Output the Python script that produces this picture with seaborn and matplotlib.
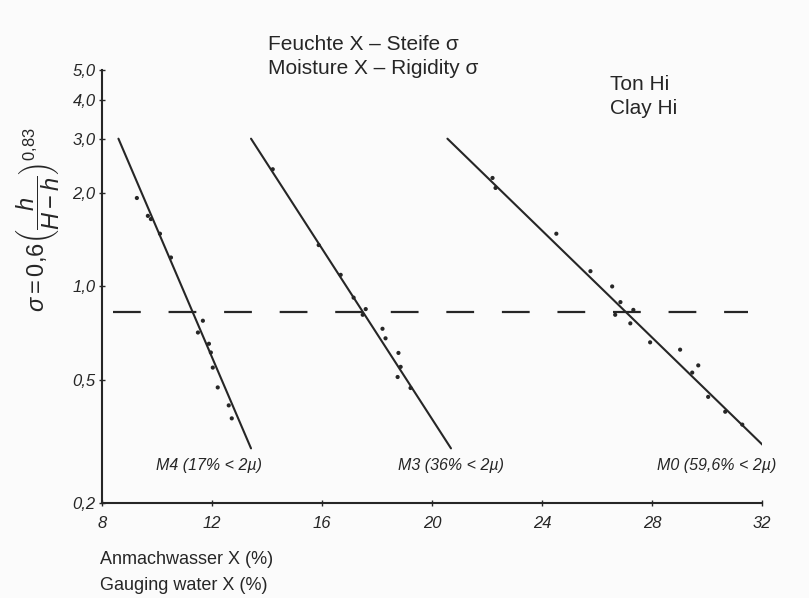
import matplotlib
matplotlib.use("Agg")
import matplotlib.pyplot as plt
import seaborn as sns
import numpy as np

# Fitted lines (log sigma vs. moisture), one per clay sample
m4_line_x = [8.6, 13.42]
m4_line_y = [3.0, 0.30]
m3_line_x = [13.42, 20.69]
m3_line_y = [3.0, 0.30]
m0_line_x = [20.56, 32.15]
m0_line_y = [3.0, 0.30]

# Measured points
m4_x = [9.27, 9.67, 9.78, 10.11, 10.51, 11.67, 11.49, 11.89, 11.96, 12.03, 12.21, 12.61, 12.72]
m4_y = [1.93, 1.69, 1.65, 1.48, 1.24, 0.775, 0.71, 0.653, 0.612, 0.547, 0.472, 0.413, 0.375]
m3_x = [14.21, 15.88, 16.68, 17.15, 17.59, 17.48, 18.20, 18.31, 18.78, 18.86, 18.75, 19.22]
m3_y = [2.39, 1.36, 1.09, 0.92, 0.845, 0.81, 0.73, 0.68, 0.61, 0.55, 0.51, 0.47]
m0_x = [22.20, 22.31, 24.52, 25.76, 26.55, 26.85, 27.32, 26.66, 27.21, 27.93, 29.02, 29.68, 29.46, 30.04, 30.66, 31.28]
m0_y = [2.24, 2.08, 1.48, 1.12, 1.00, 0.89, 0.84, 0.81, 0.76, 0.66, 0.625, 0.556, 0.527, 0.44, 0.394, 0.358]

# Reference level (dashed)
ref_x = [8.4, 31.5]
ref_y = [0.83, 0.83]

series_labels = ["M4 (17% < 2µ)", "M3 (36% < 2µ)", "M0 (59,6% < 2µ)"]
label_x = [9.96, 18.78, 28.19]
label_y = 0.265

x_ticks = [8, 12, 16, 20, 24, 28, 32]
y_ticks = [0.2, 0.5, 1.0, 2.0, 3.0, 4.0, 5.0]
y_tick_labels = ["0,2", "0,5", "1,0", "2,0", "3,0", "4,0", "5,0"]

sns.set_theme(style="ticks")
plt.rcParams["font.family"] = ["Liberation Sans", "DejaVu Sans"]
plt.rcParams["mathtext.fontset"] = "custom"
plt.rcParams["mathtext.rm"] = "Liberation Sans"
plt.rcParams["mathtext.it"] = "Liberation Sans:italic"
plt.rcParams["lines.scale_dashes"] = False

ink = "#262626"
bg = "#fbfbfb"

fig = plt.figure(figsize=(8.09, 5.98), dpi=100, facecolor=bg)
ax = fig.add_axes([0.126, 0.159, 0.816, 0.724])
ax.set_facecolor(bg)

for lx, ly, px, py in [(m4_line_x, m4_line_y, m4_x, m4_y),
                       (m3_line_x, m3_line_y, m3_x, m3_y),
                       (m0_line_x, m0_line_y, m0_x, m0_y)]:
    sns.lineplot(x=lx, y=ly, ax=ax, color=ink, linewidth=1.5)
    sns.scatterplot(x=px, y=py, ax=ax, color=ink, s=9, edgecolor="none")

sns.lineplot(x=ref_x, y=ref_y, ax=ax, color=ink, linewidth=1.6,
             linestyle=(0, (20, 20)))

ax.set_yscale("log")
ax.set_xlim(8, 32)
ax.set_ylim(0.2, 5.0)
ax.set_xticks(x_ticks)
ax.set_xticklabels([str(t) for t in x_ticks], fontstyle="italic", fontsize=12, color=ink)
ax.set_yticks(y_ticks)
ax.set_yticklabels(y_tick_labels, fontstyle="italic", fontsize=12, color=ink)
ax.minorticks_off()
ax.tick_params(axis="both", direction="inout", length=5, width=1.0, color=ink)
ax.tick_params(axis="x", pad=7)
ax.tick_params(axis="y", pad=2)

for side in ["top", "right"]:
    ax.spines[side].set_visible(False)
for side in ["left", "bottom"]:
    ax.spines[side].set_color(ink)
    ax.spines[side].set_linewidth(1.5)

for text, x in zip(series_labels, label_x):
    ax.text(x, label_y, text, fontstyle="italic", fontsize=11.5, color=ink,
            ha="left", va="center")

W, H = 809, 598
fig.text(268 / W, 1 - 45 / H, "Feuchte X – Steife σ", fontsize=15, color=ink, va="center")
fig.text(268 / W, 1 - 68 / H, "Moisture X – Rigidity σ", fontsize=15, color=ink, va="center")
fig.text(610 / W, 1 - 84 / H, "Ton Hi", fontsize=15, color=ink, va="center")
fig.text(610 / W, 1 - 108 / H, "Clay Hi", fontsize=15, color=ink, va="center")
fig.text(100 / W, 1 - 560 / H, "Anmachwasser X (%)", fontsize=13, color=ink, va="center")
fig.text(100 / W, 1 - 585 / H, "Gauging water X (%)", fontsize=13, color=ink, va="center")
fig.text(38 / W, 1 - 220 / H,
         r"$\sigma = 0{,}6\left(\dfrac{h}{H-h}\right)^{0{,}83}$",
         fontsize=17, color=ink, rotation=90, ha="center", va="center")

fig.savefig("out.png", dpi=100, facecolor=bg)
